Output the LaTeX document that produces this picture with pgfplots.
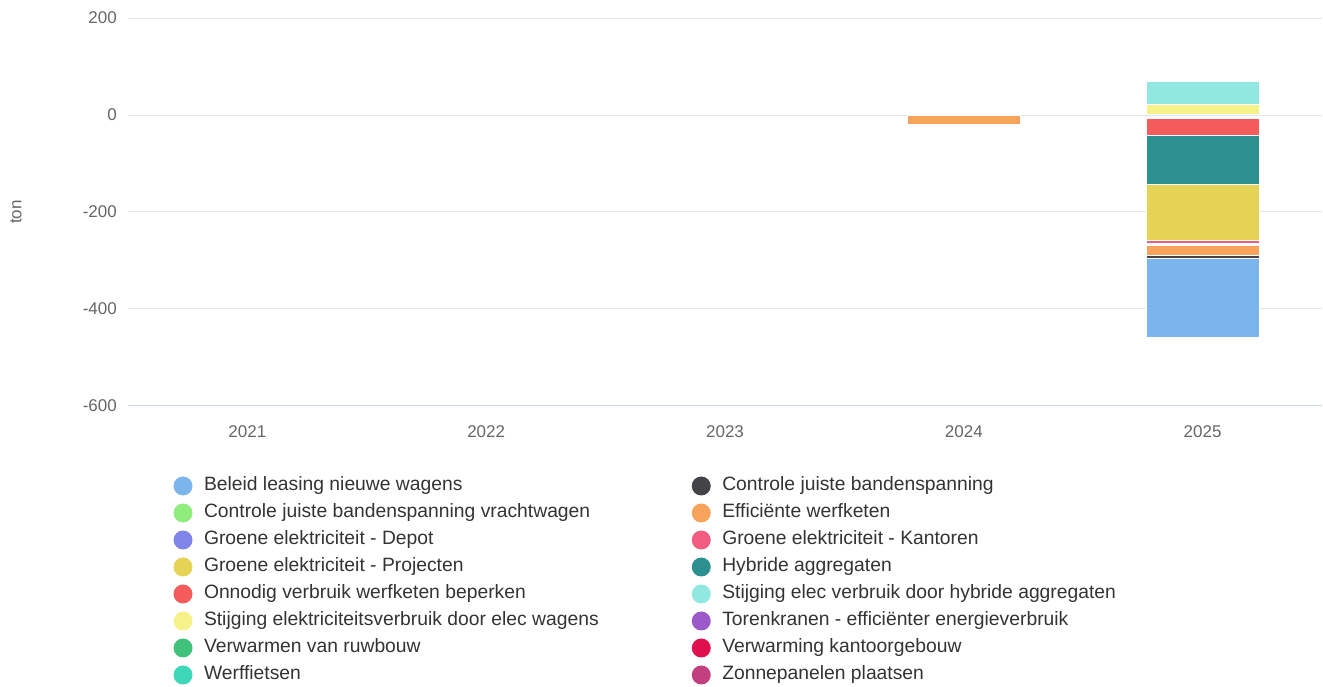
\documentclass[border=0pt]{standalone}
\usepackage{pgfplots}
\pgfplotsset{compat=1.18}
\usepackage{fontspec}
\setmainfont{Liberation Sans}
\definecolor{c1}{HTML}{7CB5EC}
\definecolor{c2}{HTML}{434348}
\definecolor{c3}{HTML}{90ED7D}
\definecolor{c4}{HTML}{F7A35C}
\definecolor{c5}{HTML}{8085E9}
\definecolor{c6}{HTML}{F15C80}
\definecolor{c7}{HTML}{E4D354}
\definecolor{c8}{HTML}{2B908F}
\definecolor{c9}{HTML}{F45B5B}
\definecolor{c10}{HTML}{91E8E1}
\definecolor{c11}{HTML}{F6F28A}
\definecolor{c12}{HTML}{9B59C9}
\definecolor{c13}{HTML}{40C27A}
\definecolor{c14}{HTML}{E0104C}
\definecolor{c15}{HTML}{3ED8B8}
\definecolor{c16}{HTML}{C2407F}
\definecolor{gridc}{HTML}{E6E6E6}
\definecolor{axisc}{HTML}{CCD6EB}
\definecolor{tickc}{HTML}{666666}
\definecolor{legc}{HTML}{333333}
\pgfplotsset{
  base/.style={
    at={(128pt,281pt)}, anchor=south west,
    scale only axis, width=1194pt, height=388pt,
    xmin=-0.5, xmax=4.5, ymin=-600, ymax=200,
    ybar stacked, bar width=113pt,
    major tick length=0pt,
  },
  seg/.style={fill=#1, draw=white, line width=1pt},
}
\begin{document}
\begin{tikzpicture}
\useasboundingbox (0pt,0pt) rectangle (1323pt,687pt);
\begin{axis}[base,
  axis line style={draw=none},
  xtick={0,1,2,3,4}, xticklabels={2021,2022,2023,2024,2025},
  ytick={-600,-400,-200,0,200}, yticklabels={-600,-400,-200,0,200},
  ymajorgrids, grid style={gridc, line width=1pt},
  xticklabel style={font=\fontsize{17}{20}\selectfont, text=tickc, yshift=-16pt},
  yticklabel style={font=\fontsize{17}{20}\selectfont, text=tickc, inner sep=0pt, xshift=-11pt},
  ylabel={ton},
  every axis y label/.style={at={(rel axis cs:0,0.5)}, xshift=-112pt, rotate=90, anchor=center, font=\fontsize{17}{20}\selectfont, text=tickc},
  legend columns=2,
  legend cell align=left,
  legend image code/.code={\fill[#1] (0pt,0pt) circle (9.5pt);},
  legend style={at={(rel axis cs:0,0)}, anchor=north west, xshift=45.5pt, yshift=-70.5pt,
    draw=none, fill=none, inner sep=0pt, outer sep=0pt, row sep=8pt,
    font=\fontsize{19.3}{22}\selectfont, text=legc,
    nodes={inner sep=0pt, text height=13pt, text depth=4pt},
    /tikz/every odd column/.style={column sep=11.5pt},
    /tikz/column 2/.style={column sep=93pt}},
]
\draw[axisc, line width=1pt] (rel axis cs:0,0) -- (rel axis cs:1,0);
\addlegendimage{fill=c1,draw=none}\addlegendentry{Beleid leasing nieuwe wagens}
\addlegendimage{fill=c2,draw=none}\addlegendentry{Controle juiste bandenspanning}
\addlegendimage{fill=c3,draw=none}\addlegendentry{Controle juiste bandenspanning vrachtwagen}
\addlegendimage{fill=c4,draw=none}\addlegendentry{Efficiënte werfketen}
\addlegendimage{fill=c5,draw=none}\addlegendentry{Groene elektriciteit - Depot}
\addlegendimage{fill=c6,draw=none}\addlegendentry{Groene elektriciteit - Kantoren}
\addlegendimage{fill=c7,draw=none}\addlegendentry{Groene elektriciteit - Projecten}
\addlegendimage{fill=c8,draw=none}\addlegendentry{Hybride aggregaten}
\addlegendimage{fill=c9,draw=none}\addlegendentry{Onnodig verbruik werfketen beperken}
\addlegendimage{fill=c10,draw=none}\addlegendentry{Stijging elec verbruik door hybride aggregaten}
\addlegendimage{fill=c11,draw=none}\addlegendentry{Stijging elektriciteitsverbruik door elec wagens}
\addlegendimage{fill=c12,draw=none}\addlegendentry{Torenkranen - efficiënter energieverbruik}
\addlegendimage{fill=c13,draw=none}\addlegendentry{Verwarmen van ruwbouw}
\addlegendimage{fill=c14,draw=none}\addlegendentry{Verwarming kantoorgebouw}
\addlegendimage{fill=c15,draw=none}\addlegendentry{Werffietsen}
\addlegendimage{fill=c16,draw=none}\addlegendentry{Zonnepanelen plaatsen}
% negative stack, nearest to zero first
\addplot[fill=none, draw=none, forget plot] coordinates {(3,0) (4,-7)};
\addplot[seg=c9, forget plot] coordinates {(3,0) (4,-36)};
\addplot[seg=c8, forget plot] coordinates {(3,0) (4,-100)};
\addplot[seg=c7, forget plot] coordinates {(3,0) (4,-116)};
\addplot[seg=c6, forget plot] coordinates {(3,0) (4,-6)};
\addplot[fill=none, draw=none, forget plot] coordinates {(3,0) (4,-5)};
\addplot[seg=c4, forget plot] coordinates {(3,-19) (4,-19)};
\addplot[seg=c2, forget plot] coordinates {(3,0) (4,-7)};
\addplot[seg=c1, forget plot] coordinates {(3,0) (4,-162)};
\end{axis}
\begin{axis}[base, hide axis]
\addplot[seg=c11] coordinates {(4,22)};
\addplot[seg=c10] coordinates {(4,48)};
\end{axis}
\end{tikzpicture}
\end{document}
